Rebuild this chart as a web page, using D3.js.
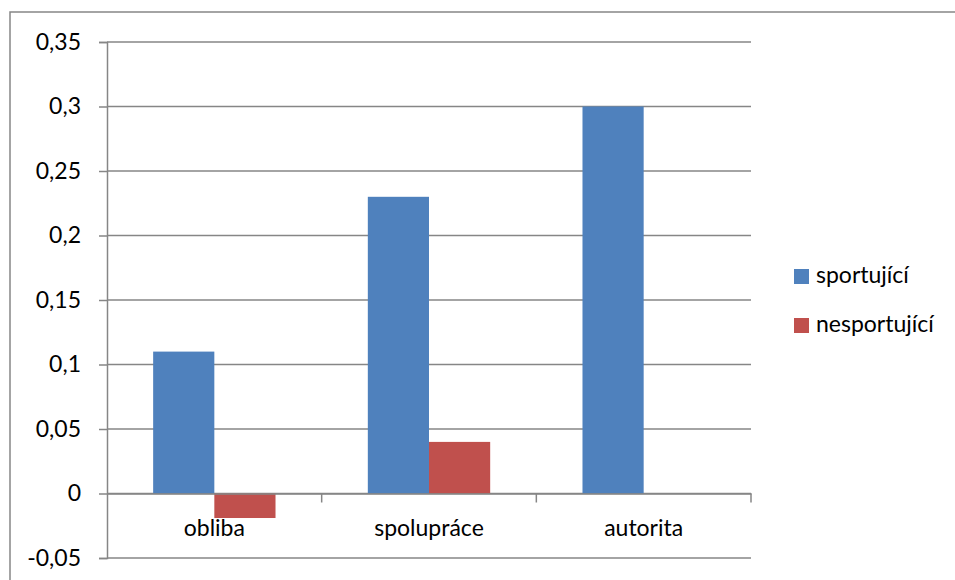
<!DOCTYPE html>
<html>
<head>
<meta charset="utf-8">
<script src="https://cdn.jsdelivr.net/npm/d3@7"></script>
<style>
  html, body { margin: 0; padding: 0; background: #fff; }
  svg { display: block; font-family: Lato, "Open Sans", sans-serif; }
</style>
</head>
<body>
<svg id="chart" width="955" height="580"></svg>
<script>
// Categories, series and tick labels
const categories = ["obliba", "spolupráce", "autorita"];
const seriesNames = ["sportující", "nesportující"];
const sportujici = [0.11, 0.23, 0.30];
const nesportujici = [-0.019, 0.04, 0];
const yTicks = [-0.05, 0, 0.05, 0.1, 0.15, 0.2, 0.25, 0.3, 0.35];
const yTickLabels = ["-0,05", "0", "0,05", "0,1", "0,15", "0,2", "0,25", "0,3", "0,35"];
const colors = ["#4F81BD", "#C0504D"];

const rows = categories.map((c, i) => ({ cat: c, vals: [sportujici[i], nesportujici[i]] }));

const svg = d3.select("#chart");
const gridColor = "#868686";
const fontSize = 23;

// Outer chart frame
svg.append("rect")
  .attr("x", 10).attr("y", 12)
  .attr("width", 960).attr("height", 600)
  .attr("fill", "none").attr("stroke", gridColor).attr("stroke-width", 1.5);

const plot = { left: 107, right: 751, top: 42, bottom: 558 };

const y = d3.scaleLinear().domain([-0.05, 0.35]).range([plot.bottom, plot.top]);
const x0 = d3.scaleBand().domain(categories).range([plot.left, plot.right]).paddingInner(0.43).paddingOuter(0.215);
const x1 = d3.scaleBand().domain(seriesNames).range([0, x0.bandwidth()]);

// Value axis with left tick marks
const yAxis = d3.axisLeft(y).tickValues(yTicks).tickSize(8).tickPadding(18)
  .tickFormat((d, i) => yTickLabels[i]);
const gy = svg.append("g").attr("transform", `translate(${plot.left},0)`).call(yAxis);
gy.select(".domain").attr("stroke", gridColor).attr("stroke-width", 1.5);
gy.selectAll(".tick line").attr("stroke", gridColor).attr("stroke-width", 1.5);
gy.selectAll(".tick text").attr("font-size", fontSize).attr("fill", "#000").attr("font-family", "Lato, sans-serif");

// Horizontal gridlines
svg.append("g").selectAll("line").data(yTicks).join("line")
  .attr("x1", plot.left).attr("x2", plot.right)
  .attr("y1", d => y(d)).attr("y2", d => y(d))
  .attr("stroke", gridColor).attr("stroke-width", 1.5);

// Bars
const groups = svg.append("g").selectAll("g").data(rows).join("g")
  .attr("transform", d => `translate(${x0(d.cat)},0)`);
groups.selectAll("rect").data(d => d.vals.map((v, i) => ({ v, s: seriesNames[i], i })))
  .join("rect")
  .attr("x", d => x1(d.s))
  .attr("width", x1.bandwidth())
  .attr("y", d => y(Math.max(0, d.v)))
  .attr("height", d => Math.abs(y(d.v) - y(0)))
  .attr("fill", d => colors[d.i]);

// Category axis along zero
const xAxis = d3.axisBottom(x0).tickSize(0).tickPadding(0).tickFormat("");
const gx = svg.append("g").attr("transform", `translate(0,${y(0)})`).call(xAxis);
gx.select(".domain").attr("stroke", gridColor).attr("stroke-width", 1.5);

// Category separators (tick marks below zero line)
const sepPositions = categories.map(c => x0(c) - x0.step() * x0.paddingInner() / 2).concat([plot.right]);
svg.append("g").selectAll("line").data(sepPositions.slice(1)).join("line")
  .attr("x1", d => d).attr("x2", d => d)
  .attr("y1", y(0)).attr("y2", y(0) + 9)
  .attr("stroke", gridColor).attr("stroke-width", 1.5);

svg.append("g").selectAll("text").data(categories).join("text")
  .attr("x", d => x0(d) + x0.bandwidth() / 2)
  .attr("y", 536)
  .attr("text-anchor", "middle")
  .attr("font-size", fontSize)
  .attr("fill", "#000")
  .text(d => d);

// Legend
const legend = svg.append("g").selectAll("g").data(seriesNames).join("g")
  .attr("transform", (d, i) => `translate(794,${269 + i * 49})`);
legend.append("rect").attr("width", 15).attr("height", 15).attr("fill", (d, i) => colors[i]);
legend.append("text").attr("x", 22).attr("y", 14).attr("font-size", fontSize).attr("fill", "#000").text(d => d);
</script>
</body>
</html>
